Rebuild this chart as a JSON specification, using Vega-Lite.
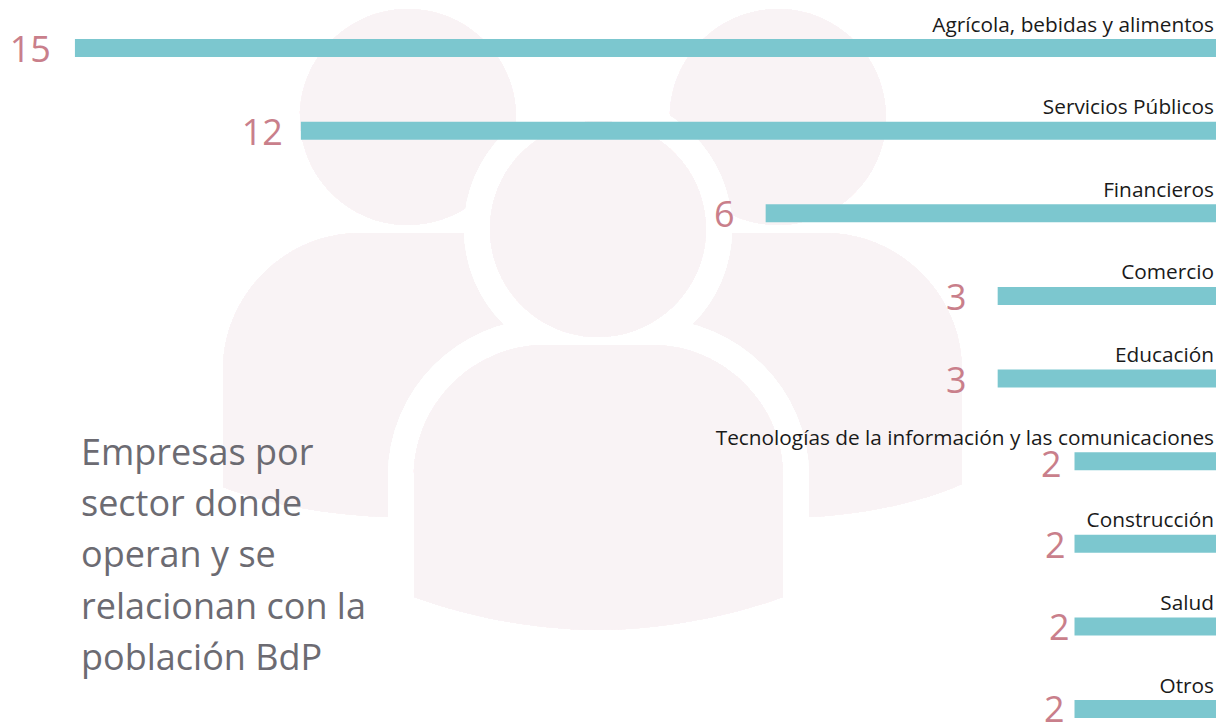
{"$schema":"https://vega.github.io/schema/vega-lite/v6.json","width":1222,"height":726,"padding":0,"autosize":{"type":"none"},"background":"#ffffff","view":{"stroke":null},"config":{"view":{"stroke":null}},
"title":{"text":["Empresas por","sector donde","operan y se","relacionan con la","población BdP"],"anchor":"start","frame":"group","orient":"top","baseline":"top","align":"left","dx":81,"offset":0,"dy":678,"font":"Open Sans","fontSize":36,"fontWeight":"normal","lineHeight":51.3,"color":"#6c6b72"},
"data":{"values":[
{"categoria":"Agrícola, bebidas y alimentos","valor":15,"largo":15},
{"categoria":"Servicios Públicos","valor":12,"largo":12.03},
{"categoria":"Financieros","valor":6,"largo":5.92},
{"categoria":"Comercio","valor":3,"largo":2.87},
{"categoria":"Educación","valor":3,"largo":2.87},
{"categoria":"Tecnologías de la información y las comunicaciones","valor":2,"largo":1.86},
{"categoria":"Construcción","valor":2,"largo":1.86},
{"categoria":"Salud","valor":2,"largo":1.86},
{"categoria":"Otros","valor":2,"largo":1.86}]},
"encoding":{"y":{"field":"categoria","type":"nominal","axis":null,"scale":{"type":"point","padding":0,"domain":["Agrícola, bebidas y alimentos","Servicios Públicos","Financieros","Comercio","Educación","Tecnologías de la información y las comunicaciones","Construcción","Salud","Otros"],"range":[48,709]}}},
"layer":[
{"mark":{"type":"point","filled":true,"size":4,"opacity":1,"fill":"#f9f3f5","strokeWidth":0,"shape":"M-916 69a108 108 0 1 0 216 0a108 108 0 1 0 -216 0zM-546 69a108 108 0 1 0 216 0a108 108 0 1 0 -216 0zM-856 185C-931 185 -993 247 -993 322L-993 439C-946 457 -886 467 -828 469L-696 469L-696 185ZM-391 185C-316 185 -254 247 -254 322L-254 436C-301 457 -361 467 -407 469L-540 469L-540 185Z"},"encoding":{"x":{"datum":0,"type":"quantitative","scale":{"domain":[15.985,-0.0789],"zero":false,"nice":false},"axis":null},"y":{"datum":"Agrícola, bebidas y alimentos"}}},
{"mark":{"type":"point","filled":true,"size":4,"opacity":1,"fill":"#ffffff","stroke":"#ffffff","strokeWidth":52,"strokeOpacity":1,"shape":"M-726 181a108 108 0 1 0 216 0a108 108 0 1 0 -216 0zM-671 297L-564 297C-492 297 -433 356 -433 428L-433 549C-490 570 -560 582 -618 582C-676 582 -745 570 -802 549L-802 428C-802 356 -743 297 -671 297Z"},"encoding":{"x":{"datum":0,"type":"quantitative"},"y":{"datum":"Agrícola, bebidas y alimentos"}}},
{"mark":{"type":"point","filled":true,"size":4,"opacity":1,"fill":"#f9f3f5","strokeWidth":0,"shape":"M-726 181a108 108 0 1 0 216 0a108 108 0 1 0 -216 0zM-671 297L-564 297C-492 297 -433 356 -433 428L-433 549C-490 570 -560 582 -618 582C-676 582 -745 570 -802 549L-802 428C-802 356 -743 297 -671 297Z"},"encoding":{"x":{"datum":0,"type":"quantitative"},"y":{"datum":"Agrícola, bebidas y alimentos"}}},
{"mark":{"type":"bar","size":18,"color":"#7cc7cf"},"encoding":{"x":{"field":"largo","type":"quantitative"}}},
{"mark":{"type":"text","align":"right","baseline":"middle","dx":-2,"dy":-22.5,"font":"Open Sans","fontSize":20.8,"color":"#1a1a1a"},"encoding":{"x":{"datum":0,"type":"quantitative"},"text":{"field":"categoria"}}},
{"transform":[{"filter":{"field":"categoria","oneOf":["Agrícola, bebidas y alimentos"]}}],"mark":{"type":"text","align":"right","baseline":"middle","dx":-24,"dy":3,"font":"Open Sans","fontSize":36,"color":"#c97f8b"},"encoding":{"x":{"field":"largo","type":"quantitative"},"text":{"field":"valor"}}},
{"transform":[{"filter":{"field":"categoria","oneOf":["Servicios Públicos"]}}],"mark":{"type":"text","align":"right","baseline":"middle","dx":-18,"dy":3,"font":"Open Sans","fontSize":36,"color":"#c97f8b"},"encoding":{"x":{"field":"largo","type":"quantitative"},"text":{"field":"valor"}}},
{"transform":[{"filter":{"field":"categoria","oneOf":["Financieros","Comercio","Educación"]}}],"mark":{"type":"text","align":"right","baseline":"middle","dx":-31,"dy":3,"font":"Open Sans","fontSize":36,"color":"#c97f8b"},"encoding":{"x":{"field":"largo","type":"quantitative"},"text":{"field":"valor"}}},
{"transform":[{"filter":{"field":"categoria","oneOf":["Tecnologías de la información y las comunicaciones"]}}],"mark":{"type":"text","align":"right","baseline":"middle","dx":-13,"dy":5,"font":"Open Sans","fontSize":36,"color":"#c97f8b"},"encoding":{"x":{"field":"largo","type":"quantitative"},"text":{"field":"valor"}}},
{"transform":[{"filter":{"field":"categoria","oneOf":["Construcción"]}}],"mark":{"type":"text","align":"right","baseline":"middle","dx":-9,"dy":3,"font":"Open Sans","fontSize":36,"color":"#c97f8b"},"encoding":{"x":{"field":"largo","type":"quantitative"},"text":{"field":"valor"}}},
{"transform":[{"filter":{"field":"categoria","oneOf":["Salud"]}}],"mark":{"type":"text","align":"right","baseline":"middle","dx":-5,"dy":3,"font":"Open Sans","fontSize":36,"color":"#c97f8b"},"encoding":{"x":{"field":"largo","type":"quantitative"},"text":{"field":"valor"}}},
{"transform":[{"filter":{"field":"categoria","oneOf":["Otros"]}}],"mark":{"type":"text","align":"right","baseline":"middle","dx":-10,"dy":2,"font":"Open Sans","fontSize":36,"color":"#c97f8b"},"encoding":{"x":{"field":"largo","type":"quantitative"},"text":{"field":"valor"}}}
]}
